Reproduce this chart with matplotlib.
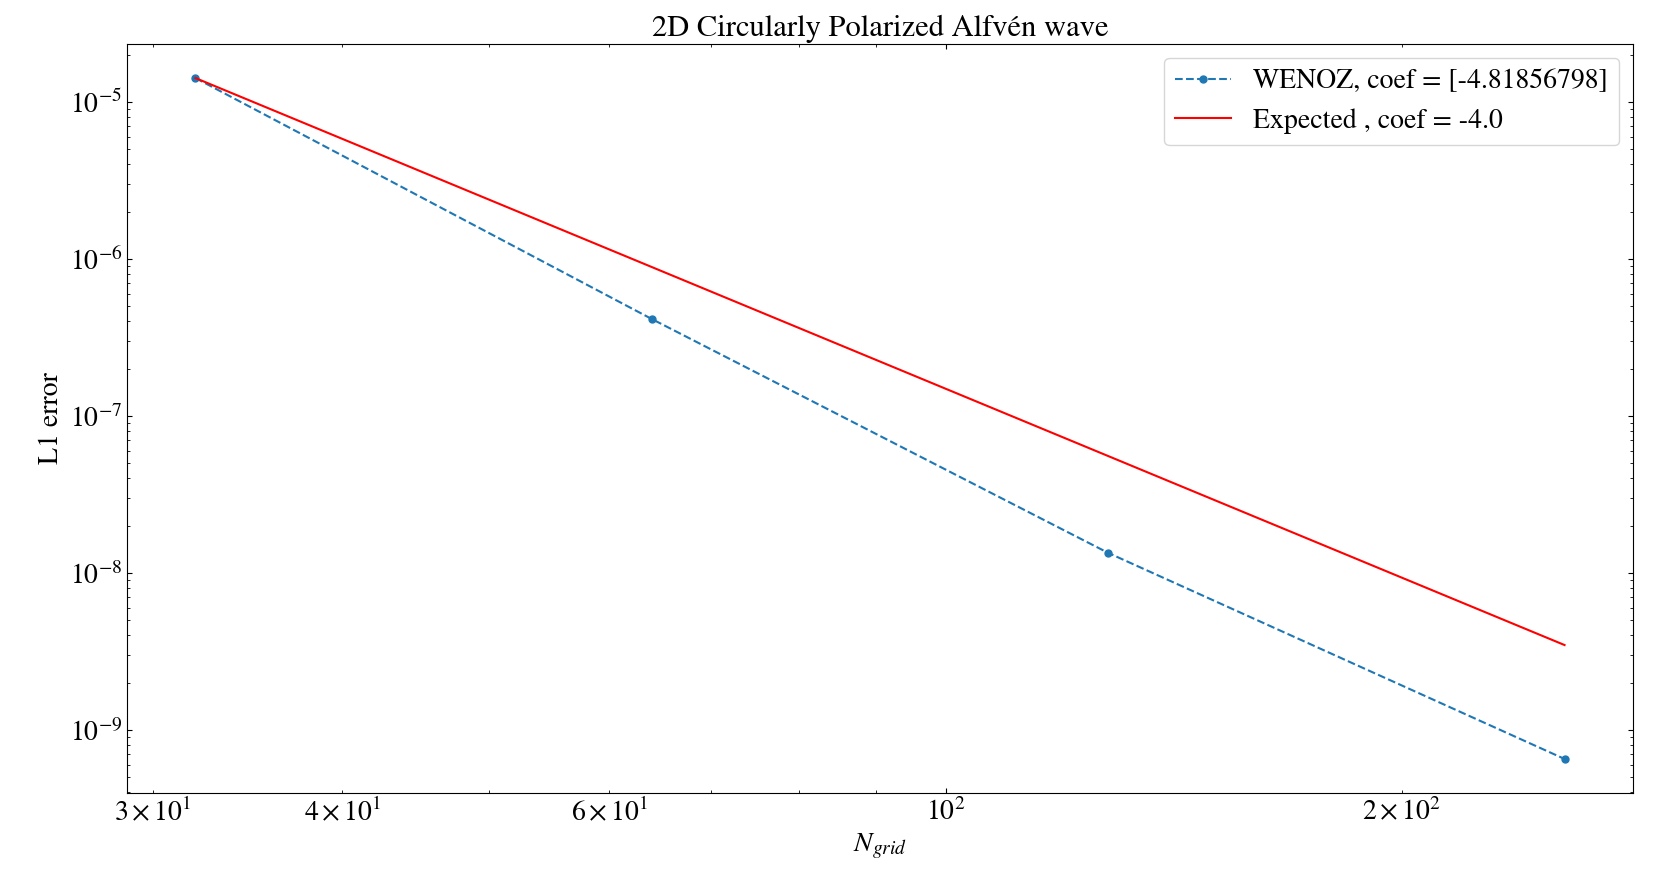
import matplotlib
matplotlib.use("Agg")
import matplotlib.pyplot as plt

# Data
n_grid = [32, 64, 128, 256]
l1_error = [1.42e-5, 4.14e-7, 1.34e-8, 6.52e-10]
expected = [1.42e-5, 8.875e-7, 5.547e-8, 3.467e-9]
label_wenoz = "WENOZ, coef = [-4.81856798]"
label_expected = "Expected , coef = -4.0"
title = "2D Circularly Polarized Alfvén wave"

plt.rcParams['font.family'] = ['STIXGeneral', 'DejaVu Sans']
plt.rcParams['mathtext.fontset'] = 'stix'
plt.rcParams['font.size'] = 20
plt.rcParams['xtick.direction'] = 'in'
plt.rcParams['ytick.direction'] = 'in'
plt.rcParams['xtick.top'] = True
plt.rcParams['ytick.right'] = True

fig = plt.figure(figsize=(16.74, 8.76), dpi=100)
ax = fig.add_axes([127/1674, 1-793/876, (1633-127)/1674, (793-44)/876])

ax.loglog(n_grid, l1_error, '--o', color='C0', markersize=5, label=label_wenoz)
ax.loglog(n_grid, expected, '-', color='red', label=label_expected)

ax.set_title(title, fontsize=22)
ax.set_xlabel(r"$N_{grid}$", fontsize=20)
ax.set_ylabel("L1 error", fontsize=20)
ax.legend(loc='upper right', fontsize=20)

fig.savefig("out.png", dpi=100)
